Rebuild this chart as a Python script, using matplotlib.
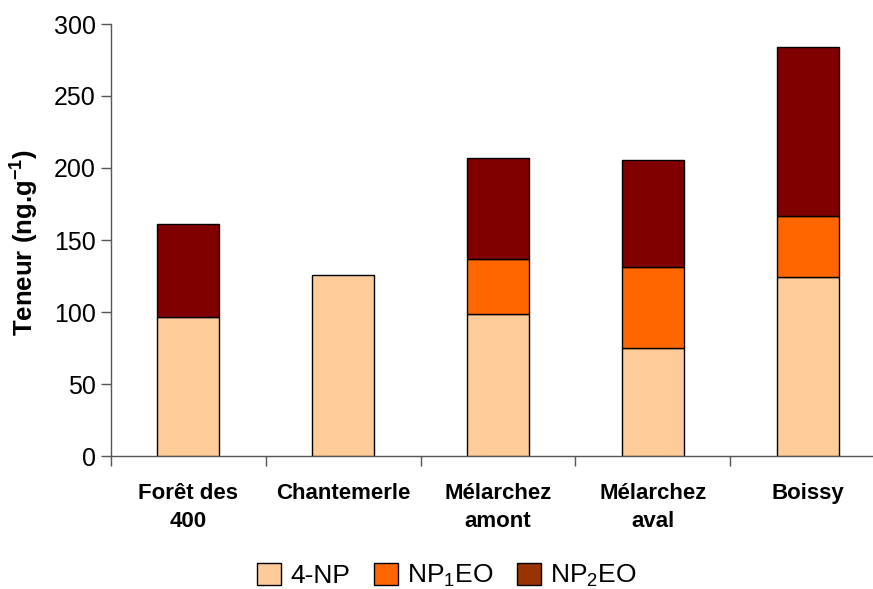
import matplotlib
matplotlib.use("Agg")
import matplotlib.pyplot as plt
import numpy as np
from matplotlib.patches import Patch

# Values (ng.g-1)
SITES = ["Forêt des\n400", "Chantemerle", "Mélarchez\namont", "Mélarchez\naval", "Boissy"]
NP4 = [96.5, 125.5, 98.5, 75.0, 124.0]
NP1EO = [0.0, 0.0, 38.0, 56.5, 42.5]
NP2EO = [64.5, 0.0, 70.5, 74.0, 117.5]
SERIES = ["4-NP", r"NP$_1$EO", r"NP$_2$EO"]

BAR_COLORS = ["#FFCC99", "#FF6600", "#800000"]
LEGEND_COLORS = ["#FFCC99", "#FF6600", "#993300"]

plt.rcParams.update(
    {
        "font.family": ["Liberation Sans", "DejaVu Sans"],
        "mathtext.fontset": "custom",
        "mathtext.rm": "Liberation Sans",
        "mathtext.it": "Liberation Sans",
        "mathtext.bf": "Liberation Sans:bold",
    }
)

fig = plt.figure(figsize=(8.73, 5.89), dpi=100)
ax = fig.add_axes([111 / 873, 133 / 589, 774 / 873, 432 / 589])

x = np.arange(len(SITES))
width = 0.4
bottom = np.zeros(len(SITES))
for values, color in zip([NP4, NP1EO, NP2EO], BAR_COLORS):
    values = np.asarray(values)
    mask = values > 0
    ax.bar(x[mask], values[mask], width=width, bottom=bottom[mask],
           color=color, edgecolor="black", linewidth=1.0, zorder=3)
    bottom += values

ax.set_xlim(-0.5, len(SITES) - 0.5)
ax.set_ylim(0, 300)
ax.set_yticks(np.arange(0, 301, 50))
ax.tick_params(axis="y", labelsize=18, length=7, width=1, color="#555555", pad=4)

ax.set_xticks(x)
ax.set_xticklabels([])
ax.tick_params(axis="x", which="major", length=0)
ax.set_xticks(np.arange(-0.5, len(SITES) + 0.5, 1), minor=True)
ax.tick_params(axis="x", which="minor", length=7, width=1, color="#555555")

for xi, label in zip(x, SITES):
    ax.text(xi, -19, label, ha="center", va="top", fontsize=16,
            fontweight="bold", linespacing=1.4)

for side in ("top", "right"):
    ax.spines[side].set_visible(False)
for side in ("left", "bottom"):
    ax.spines[side].set_color("#555555")
    ax.spines[side].set_linewidth(1.0)

fig.text(25 / 873, 1 - 243 / 589, r"Teneur (ng.g$^{\mathbf{-1}}$)", rotation=90,
         ha="center", va="center", fontsize=18.5, fontweight="bold")

handles = [Patch(facecolor=c, edgecolor="black", linewidth=1.0) for c in LEGEND_COLORS]
fig.legend(handles, SERIES, loc="center", bbox_to_anchor=(447 / 873, 1 - 576 / 589),
           ncol=3, frameon=False, fontsize=19, handlelength=0.9, handleheight=0.9,
           handletextpad=0.35, columnspacing=0.9, borderpad=0)

fig.savefig("out.png", dpi=100)
